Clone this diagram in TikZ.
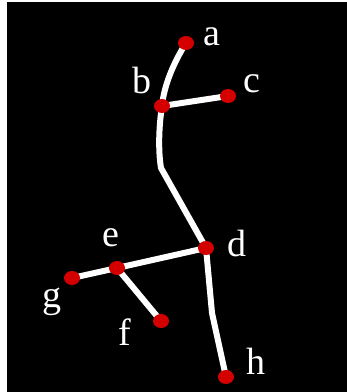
\documentclass[tikz,border=0pt]{standalone}
\usepackage{fontspec}
\setmainfont{Liberation Serif}
\usetikzlibrary{shapes.geometric,backgrounds}
\definecolor{dotred}{RGB}{212,0,0}
\tikzset{
  dot/.style={ellipse,fill=dotred,inner sep=0pt,minimum width=16pt,minimum height=14pt},
  lbl/.style={text=white,font=\fontsize{38}{38}\selectfont,inner sep=0pt},
  edge/.style={draw=white,line width=6pt}
}
\begin{document}
\begin{tikzpicture}[x=1pt,y=-1pt]
\useasboundingbox (0,0) rectangle (347,392);
\node[dot] (a) at (186,43) {};
\node[dot] (b) at (162,106) {};
\node[dot] (c) at (228,96) {};
\node[dot] (d) at (206,248) {};
\node[dot] (e) at (117,268) {};
\node[dot] (g) at (72,278) {};
\node[dot] (f) at (161,321) {};
\node[dot] (h) at (226,377) {};
\coordinate (bd) at (161,168);
\coordinate (dh) at (212,313);
\node[lbl] (la) at (212,37) {a};
\node[lbl] (lb) at (142,80) {b};
\node[lbl] (lc) at (252,84) {c};
\node[lbl] (ld) at (237,243) {d};
\node[lbl] (le) at (111,238) {e};
\node[lbl] (lg) at (52,302) {g};
\node[lbl] (lf) at (125,332) {f};
\node[lbl] (lh) at (256,361) {h};
\begin{scope}[on background layer]
\fill[white] (0,0) rectangle (347,392);
\fill[black] (7,2) rectangle (347,392);
\draw[edge] (a.center) .. controls (174,62) and (164,85) .. (b.center);
\draw[edge] (b.center) .. controls (159,125) and (158,150) .. (bd) -- (d.center);
\draw[edge] (b.center) -- (c.center);
\draw[edge] (d.center) -- (e.center) -- (g.center);
\draw[edge] (e.center) -- (f.center);
\draw[edge] (d.center) -- (dh) -- (h.center);
\end{scope}
\end{tikzpicture}
\end{document}
